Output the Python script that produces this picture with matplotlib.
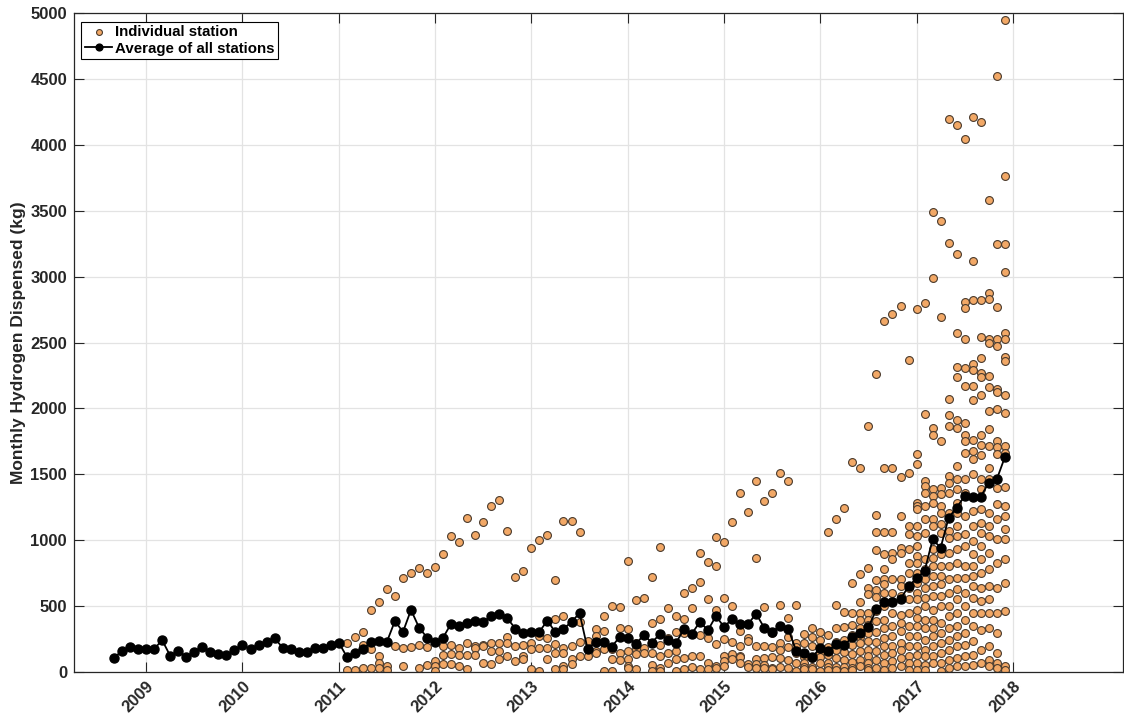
import numpy as np
import matplotlib.pyplot as plt

plt.rcParams['font.family'] = ['Liberation Sans', 'DejaVu Sans']

# Average of all stations, monthly from Sep 2008 to Dec 2017 (kg)
avg_start = 2008 + 8 / 12
avg_kg = [109, 160, 190, 177,
          172, 177, 240, 122, 160, 116, 154, 192, 152, 134, 129, 167,
          205, 172, 205, 228, 256, 185, 172, 152, 152, 185, 185, 203,
          223, 116, 142, 172, 228, 235, 230, 387, 304, 471, 337, 261,
          228, 261, 367, 349, 370, 387, 380, 425, 443, 408, 329, 299,
          303, 306, 390, 300, 328, 379, 447, 176, 225, 225, 191, 265,
          258, 210, 281, 223, 286, 243, 218, 324, 291, 380, 316, 425,
          342, 400, 362, 362, 443, 337, 304, 349, 329, 160, 147, 116,
          180, 160, 215, 204, 264, 298, 340, 475, 529, 529, 553, 650,
          712, 766, 1006, 943, 1171, 1247, 1336, 1331, 1331, 1437, 1463, 1630]

# Individual stations, one list per month (Jan..Dec)
st_2011 = [[], [220, 15], [269, 15], [302, 203, 28], [474, 177, 28],
           [533, 122, 66, 28], [628, 46, 15], [577, 197], [713, 185, 46],
           [751, 190], [790, 203, 33], [751, 192, 51]]
st_2012 = [[797, 84, 46, 8], [892, 197, 127, 58], [1028, 203, 140, 58],
           [987, 185, 130, 46], [1167, 223, 127, 25], [1038, 197, 180, 127],
           [1141, 205, 197, 66], [1256, 223, 160, 60], [1302, 223, 160, 96],
           [1067, 266, 218, 122], [718, 197, 84], [769, 203, 122, 100]]
st_2013 = [[944, 218, 172, 25], [1000, 273, 185, 8], [1041, 261, 185, 101],
           [700, 405, 215, 142, 20], [1149, 425, 180, 147, 46, 20],
           [1149, 387, 197, 100, 58], [1064, 380, 230, 122], [235, 172, 122],
           [324, 273, 160, 147], [425, 311, 172, 8], [501, 172, 96, 8],
           [496, 337, 147, 90]]
st_2014 = [[842, 324, 160, 96, 46, 30], [544, 223, 172, 134, 20],
           [559, 185, 147], [723, 375, 147, 50, 8], [951, 400, 203, 120, 30, 8],
           [489, 261, 147, 71], [425, 300, 160, 101, 8], [602, 400, 299, 109, 20],
           [640, 489, 122, 40], [900, 680, 278, 122, 20], [832, 552, 261, 71, 20],
           [1022, 807, 473, 210, 46, 30]]
st_2015 = [[989, 565, 250, 122, 80, 46], [1136, 501, 230, 134, 96],
           [1361, 311, 197, 120, 110, 71], [1216, 261, 235, 58, 40],
           [1452, 867, 197, 100, 58, 30], [1300, 496, 197, 104, 50, 28],
           [1356, 299, 192, 117, 33, 20], [1512, 506, 217, 167, 104, 41],
           [1452, 413, 268, 192, 91, 28], [506, 223, 192, 142, 66, 10],
           [286, 217, 117, 71, 41, 20], [337, 268, 200, 104, 41, 20]]
st_2016 = [[306, 243, 147, 117, 66, 10],
           [1065, 281, 192, 129, 66, 40, 15],
           [1158, 506, 331, 230, 167, 104, 41, 15],
           [1247, 457, 343, 240, 150, 88, 35, 10],
           [1594, 673, 449, 360, 280, 205, 137, 73, 30, 12],
           [1544, 740, 533, 449, 398, 335, 268, 221, 157, 94, 43],
           [1863, 791, 639, 590, 449, 398, 356, 297, 233, 170, 119, 68, 30, 12],
           [2258, 1191, 1060, 926, 698, 622, 572, 460, 390, 306, 230, 160, 92, 30],
           [2663, 1551, 1062, 892, 778, 702, 664, 601, 500, 398, 335, 259, 195,
            132, 68, 18],
           [2716, 1544, 1062, 905, 854, 702, 601, 537, 449, 347, 271, 195, 144,
            81, 30],
           [2779, 1483, 1184, 943, 905, 702, 652, 575, 436, 373, 309, 221, 170,
            106, 43],
           [2367, 1513, 1108, 1044, 930, 829, 753, 639, 550, 449, 347, 271, 195,
            119, 68, 18]]
st_2017 = [[2754, 1653, 1577, 1285, 1260, 1234, 1108, 1032, 956, 880, 829, 753,
            677, 601, 550, 474, 411, 347, 271, 195, 132, 68, 18],
           [2802, 1955, 1450, 1412, 1361, 1260, 1158, 1057, 854, 778, 702, 639,
            563, 499, 398, 335, 246, 170, 119, 56, 18],
           [3493, 2987, 1849, 1798, 1387, 1336, 1285, 1158, 1108, 930, 867, 804,
            728, 652, 575, 474, 398, 335, 271, 195, 119, 68],
           [3422, 2691, 1750, 1399, 1349, 1260, 1209, 1120, 1057, 892, 804, 728,
            664, 575, 499, 373, 297, 221, 144, 68, 5],
           [4196, 3257, 2071, 1947, 1865, 1488, 1437, 1361, 1209, 1070, 1019, 905,
            804, 702, 601, 499, 423, 335, 246, 170, 94, 30],
           [4150, 3171, 2572, 2314, 2241, 1912, 1852, 1564, 1463, 1387, 1285, 1209,
            1108, 1032, 930, 829, 715, 626, 550, 449, 347, 271, 195, 106, 43],
           [4044, 2810, 2760, 2526, 2308, 2172, 1890, 1800, 1750, 1660, 1463, 1361,
            1186, 1044, 956, 804, 715, 601, 499, 398, 297, 208, 119, 43],
           [4213, 3121, 2822, 2340, 2293, 2172, 2060, 1757, 1680, 1615, 1501, 1224,
            1108, 994, 892, 804, 728, 652, 563, 449, 347, 233, 132, 56],
           [4175, 2822, 2542, 2382, 2265, 2241, 2105, 1800, 1720, 1650, 1463, 1387,
            1234, 1133, 1057, 956, 854, 753, 639, 537, 449, 322, 170, 68],
           [3581, 2875, 2830, 2526, 2495, 2247, 2166, 1978, 1846, 1716, 1551, 1463,
            1209, 1108, 1032, 905, 778, 652, 550, 449, 335, 195, 94, 43],
           [4520, 3247, 2772, 2526, 2473, 2150, 2125, 1995, 1750, 1705, 1655, 1399,
            1272, 1158, 1006, 829, 639, 449, 297, 144, 68, 30],
           [4950, 3763, 3247, 3037, 2572, 2526, 2390, 2362, 2105, 1966, 1712, 1659,
            1400, 1260, 1184, 1082, 1006, 854, 677, 461, 43, 18]]

station_years = {2011: st_2011, 2012: st_2012, 2013: st_2013, 2014: st_2014,
                 2015: st_2015, 2016: st_2016, 2017: st_2017}

years = list(range(2009, 2019))

# flatten the station lists into x (decimal year) / y
sx, sy = [], []
for yr, months in station_years.items():
    for m, vals in enumerate(months):
        for v in vals:
            sx.append(yr + m / 12)
            sy.append(v)

ax_x = avg_start + np.arange(len(avg_kg)) / 12

fig = plt.figure(figsize=(11.24, 7.17), dpi=100)
ax = fig.add_axes([0.0658, 0.0628, 0.933, 0.919])

ax.grid(True, color='#e3e3e3', linewidth=0.9, zorder=0)
ax.set_axisbelow(True)

ax.scatter(sx, sy, s=32, facecolor='#F2A866', edgecolor='#4a3a2c',
           linewidths=0.8, zorder=2, label='Individual station')
ax.plot(ax_x, avg_kg, color='black', linewidth=1.3, marker='o',
        markersize=6.5, zorder=3, label='Average of all stations')

ax.set_xlim(2008.25, 2019.14)
ax.set_ylim(0, 5000)
ax.set_xticks(years)
ax.set_xticklabels([str(y) for y in years], rotation=45, ha='right',
                   rotation_mode='anchor', fontweight='bold', fontsize=12)
ax.set_yticks(np.arange(0, 5001, 500))
ax.set_yticklabels([str(v) for v in range(0, 5001, 500)],
                   fontweight='bold', fontsize=12)
ax.tick_params(direction='in', length=7, width=0.8, top=True, right=True,
               colors='#262626', pad=5)
for lab in ax.get_xticklabels() + ax.get_yticklabels():
    lab.set_color('#262626')
for sp in ax.spines.values():
    sp.set_color('#262626')
    sp.set_linewidth(0.9)

ax.set_ylabel('Monthly Hydrogen Dispensed (kg)', fontsize=12.5,
              fontweight='bold', color='#262626', labelpad=3)

leg = ax.legend(loc='upper left', bbox_to_anchor=(0.007, 0.987),
                borderaxespad=0, fancybox=False, framealpha=1,
                edgecolor='black', prop={'weight': 'bold', 'size': 10.8},
                handlelength=1.8, handletextpad=0.2, borderpad=0.25,
                labelspacing=0.15, markerscale=0.75)
leg.get_frame().set_linewidth(0.8)

fig.savefig('out.png', dpi=100)
